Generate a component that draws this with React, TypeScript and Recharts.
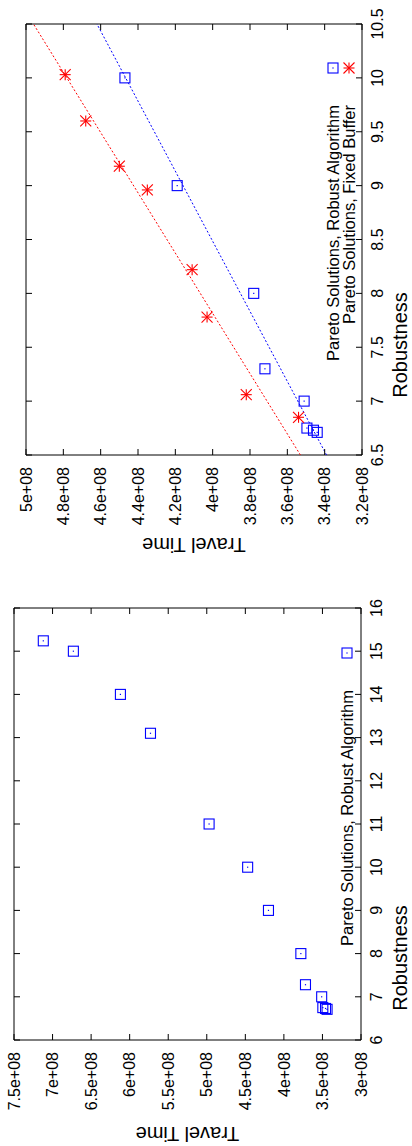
import React from 'react';
import { ScatterChart, Scatter, XAxis, YAxis, ReferenceLine, ReferenceArea, Legend, Label } from 'recharts';

const FONT = '"Liberation Sans", Arial, Helvetica, sans-serif';
const BLUE = '#0000ff';
const RED = '#ff0000';

// ---- Left plot: Pareto Solutions, Robust Algorithm (full range) ----
const robustAllR = [15.24, 15.0, 14.0, 13.1, 11.0, 10.0, 9.0, 8.0, 7.28, 7.0, 6.75, 6.73, 6.71];
const robustAllT = [7.12e8, 6.73e8, 6.12e8, 5.73e8, 4.97e8, 4.47e8, 4.2e8, 3.78e8, 3.72e8, 3.51e8, 3.495e8, 3.46e8, 3.44e8];

// ---- Right plot ----
const robustZoomR = [10.0, 9.0, 8.0, 7.3, 7.0, 6.75, 6.73, 6.71];
const robustZoomT = [4.47e8, 4.19e8, 3.78e8, 3.72e8, 3.51e8, 3.495e8, 3.46e8, 3.44e8];
const fixedR = [10.03, 9.6, 9.18, 8.96, 8.22, 7.78, 7.06, 6.85];
const fixedT = [4.79e8, 4.68e8, 4.5e8, 4.35e8, 4.11e8, 4.03e8, 3.82e8, 3.54e8];

// fitted trend lines (end points)
const fitRobustR = [6.5, 10.5];
const fitRobustT = [3.39e8, 4.62e8];
const fitFixedR = [6.5, 10.5];
const fitFixedT = [3.53e8, 4.96e8];

// ---- ticks ----
const leftXTicks = [6, 7, 8, 9, 10, 11, 12, 13, 14, 15, 16];
const leftXLabels = ['6', '7', '8', '9', '10', '11', '12', '13', '14', '15', '16'];
const leftYTicks = [3e8, 3.5e8, 4e8, 4.5e8, 5e8, 5.5e8, 6e8, 6.5e8, 7e8, 7.5e8];
const leftYLabels = ['3e+08', '3.5e+08', '4e+08', '4.5e+08', '5e+08', '5.5e+08', '6e+08', '6.5e+08', '7e+08', '7.5e+08'];
const rightXTicks = [6.5, 7, 7.5, 8, 8.5, 9, 9.5, 10, 10.5];
const rightXLabels = ['6.5', '7', '7.5', '8', '8.5', '9', '9.5', '10', '10.5'];
const rightYTicks = [3.2e8, 3.4e8, 3.6e8, 3.8e8, 4e8, 4.2e8, 4.4e8, 4.6e8, 4.8e8, 5e8];
const rightYLabels = ['3.2e+08', '3.4e+08', '3.6e+08', '3.8e+08', '4e+08', '4.2e+08', '4.4e+08', '4.6e+08', '4.8e+08', '5e+08'];

const SERIES_ROBUST = 'Pareto Solutions, Robust Algorithm';
const SERIES_FIXED = 'Pareto Solutions, Fixed Buffer';
const LEGEND_ORDER = [SERIES_ROBUST, SERIES_FIXED];

const zip = (xs: number[], ys: number[]) => xs.map((x, i) => ({ x, y: ys[i] }));

const lookup = (v: number, ticks: number[], labels: string[]) => {
  const i = ticks.findIndex((t) => Math.abs(t - v) <= 1e-6 * Math.max(1, Math.abs(t)));
  return i >= 0 ? labels[i] : String(v);
};

type Bounds = { left: number; right: number; top: number; bottom: number };

const TICK_FS = 16;
const LEGEND_FS = 16.5;
const LABEL_FS = 20;

const SquareMark = (props: any) => {
  const { cx, cy } = props;
  if (cx == null || cy == null) return <g />;
  return (
    <g>
      <rect x={cx - 5} y={cy - 5} width={10} height={10} fill="none" stroke={BLUE} strokeWidth={1.1} />
      <rect x={cx - 0.6} y={cy - 0.6} width={1.2} height={1.2} fill={BLUE} />
    </g>
  );
};

const StarMark = (props: any) => {
  const { cx, cy } = props;
  if (cx == null || cy == null) return <g />;
  const r = 5.5;
  return (
    <g stroke={RED} strokeWidth={1.1}>
      <line x1={cx - r} y1={cy} x2={cx + r} y2={cy} />
      <line x1={cx} y1={cy - r} x2={cx} y2={cy + r} />
      <line x1={cx - r} y1={cy - r} x2={cx + r} y2={cy + r} />
      <line x1={cx - r} y1={cy + r} x2={cx + r} y2={cy - r} />
    </g>
  );
};

const makeXTick = (b: Bounds, ticks: number[], labels: string[]) => (props: any) => {
  const { x, payload } = props;
  return (
    <g>
      <line x1={x} x2={x} y1={b.bottom} y2={b.bottom - 6} stroke="#000" strokeWidth={1} />
      <line x1={x} x2={x} y1={b.top} y2={b.top + 6} stroke="#000" strokeWidth={1} />
      <text x={x} y={b.bottom + 21} textAnchor="middle" fontSize={TICK_FS} fontFamily={FONT} fill="#000">
        {lookup(payload.value, ticks, labels)}
      </text>
    </g>
  );
};

const makeYTick = (b: Bounds, ticks: number[], labels: string[]) => (props: any) => {
  const { y, payload } = props;
  return (
    <g>
      <line x1={b.left} x2={b.left + 6} y1={y} y2={y} stroke="#000" strokeWidth={1} />
      <line x1={b.right} x2={b.right - 6} y1={y} y2={y} stroke="#000" strokeWidth={1} />
      <text x={b.left - 12} y={y + 5.7} textAnchor="end" fontSize={TICK_FS} fontFamily={FONT} fill="#000">
        {lookup(payload.value, ticks, labels)}
      </text>
    </g>
  );
};

const makeLegend = (textEndX: number, sampleX: number, rowY: number[], w: number, h: number) => (props: any) => {
  const payload: any[] = (props.payload || []).slice();
  payload.sort((a, b) => LEGEND_ORDER.indexOf(a.value) - LEGEND_ORDER.indexOf(b.value));
  return (
    <svg width={w} height={h} style={{ overflow: 'visible', display: 'block' }}>
      {payload.map((entry, i) => (
        <g key={i}>
          <text x={textEndX} y={rowY[i] + 6} textAnchor="end" fontSize={LEGEND_FS} fontFamily={FONT} fill="#000">
            {entry.value}
          </text>
          {entry.value === SERIES_FIXED ? <StarMark cx={sampleX} cy={rowY[i]} /> : <SquareMark cx={sampleX} cy={rowY[i]} />}
        </g>
      ))}
    </svg>
  );
};

const xLabel = (cx: number, baseline: number) => () => (
  <text x={cx} y={baseline} textAnchor="middle" fontSize={LABEL_FS} fontFamily={FONT} fill="#000">
    Robustness
  </text>
);

const yLabel = (baselineX: number, cy: number) => () => (
  <text x={0} y={0} transform={`translate(${baselineX}, ${cy}) rotate(-90)`} textAnchor="middle" fontSize={LABEL_FS} fontFamily={FONT} fill="#000">
    Travel Time
  </text>
);

const W = 573;
const H = 412;

const leftB: Bounds = { left: 106, right: 538, top: 14, bottom: 361 };
const rightB: Bounds = { left: 118, right: 549, top: 26, bottom: 362 };

function LeftChart() {
  return (
    <ScatterChart width={W} height={H} margin={{ top: leftB.top, right: W - leftB.right, bottom: 0, left: 0 }}>
      <XAxis
        type="number"
        dataKey="x"
        domain={[6, 16]}
        ticks={leftXTicks}
        interval={0}
        height={H - leftB.bottom}
        axisLine={false}
        tickLine={false}
        tick={makeXTick(leftB, leftXTicks, leftXLabels)}
      >
        <Label content={xLabel(188, 407)} />
      </XAxis>
      <YAxis
        type="number"
        dataKey="y"
        domain={[3e8, 7.5e8]}
        ticks={leftYTicks}
        interval={0}
        width={leftB.left}
        axisLine={false}
        tickLine={false}
        tick={makeYTick(leftB, leftYTicks, leftYLabels)}
      >
        <Label content={yLabel(19, (leftB.top + leftB.bottom) / 2)} />
      </YAxis>
      <ReferenceArea x1={6} x2={16} y1={3e8} y2={7.5e8} fill="none" fillOpacity={0} stroke="#000" strokeWidth={1} ifOverflow="visible" />
      <Scatter name={SERIES_ROBUST} data={zip(robustAllR, robustAllT)} shape={SquareMark} legendType="square" fill={BLUE} isAnimationActive={false} />
      <Legend
        layout="vertical"
        align="center"
        verticalAlign="middle"
        wrapperStyle={{ left: 180, top: 335, width: 340, height: 26 }}
        content={makeLegend(276, 313, [12], 340, 26)}
      />
    </ScatterChart>
  );
}

function RightChart() {
  return (
    <ScatterChart width={W} height={H} margin={{ top: rightB.top, right: W - rightB.right, bottom: 0, left: 0 }}>
      <XAxis
        type="number"
        dataKey="x"
        domain={[6.5, 10.5]}
        ticks={rightXTicks}
        interval={0}
        height={H - rightB.bottom}
        axisLine={false}
        tickLine={false}
        tick={makeXTick(rightB, rightXTicks, rightXLabels)}
      >
        <Label content={xLabel(228, 407)} />
      </XAxis>
      <YAxis
        type="number"
        dataKey="y"
        domain={[3.2e8, 5e8]}
        ticks={rightYTicks}
        interval={0}
        width={rightB.left}
        axisLine={false}
        tickLine={false}
        tick={makeYTick(rightB, rightYTicks, rightYLabels)}
      >
        <Label content={yLabel(35, (rightB.top + rightB.bottom) / 2)} />
      </YAxis>
      <ReferenceArea x1={6.5} x2={10.5} y1={3.2e8} y2={5e8} fill="none" fillOpacity={0} stroke="#000" strokeWidth={1} ifOverflow="visible" />
      <ReferenceLine
        segment={[{ x: fitFixedR[0], y: fitFixedT[0] }, { x: fitFixedR[1], y: fitFixedT[1] }]}
        stroke={RED}
        strokeWidth={1}
        strokeDasharray="2 2"
        ifOverflow="visible"
      />
      <ReferenceLine
        segment={[{ x: fitRobustR[0], y: fitRobustT[0] }, { x: fitRobustR[1], y: fitRobustT[1] }]}
        stroke={BLUE}
        strokeWidth={1}
        strokeDasharray="2 2"
        ifOverflow="visible"
      />
      <Scatter name={SERIES_ROBUST} data={zip(robustZoomR, robustZoomT)} shape={SquareMark} legendType="square" fill={BLUE} isAnimationActive={false} />
      <Scatter name={SERIES_FIXED} data={zip(fixedR, fixedT)} shape={StarMark} legendType="star" fill={RED} isAnimationActive={false} />
      <Legend
        layout="vertical"
        align="center"
        verticalAlign="middle"
        wrapperStyle={{ left: 180, top: 321, width: 340, height: 40 }}
        content={makeLegend(288, 325, [12, 28], 340, 40)}
      />
    </ScatterChart>
  );
}

export default function App() {
  return (
    <div style={{ position: 'absolute', left: 0, top: 0, width: 412, height: 1146, overflow: 'hidden', background: '#fff', fontFamily: FONT }}>
      <div
        style={{
          position: 'absolute',
          left: 0,
          top: 0,
          width: 1146,
          height: 412,
          transformOrigin: '0 0',
          transform: 'translateY(1146px) rotate(-90deg)',
        }}
      >
        <div style={{ position: 'absolute', left: 0, top: 0 }}>
          <LeftChart />
        </div>
        <div style={{ position: 'absolute', left: W, top: 0 }}>
          <RightChart />
        </div>
      </div>
    </div>
  );
}
